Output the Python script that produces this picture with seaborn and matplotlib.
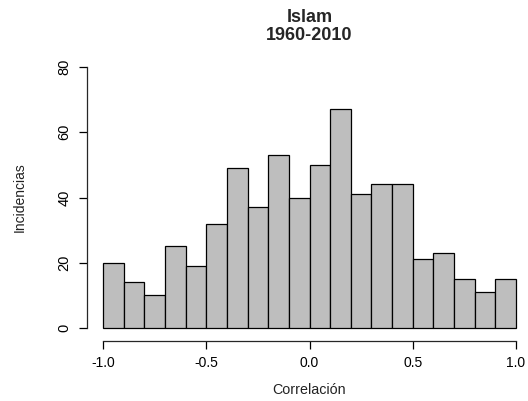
import numpy as np
import pandas as pd
import matplotlib
matplotlib.use("Agg")
import matplotlib.pyplot as plt
import seaborn as sns

# datos del histograma (cuentas por intervalo de 0.1)
bordes = [round(-1.0 + 0.1 * i, 1) for i in range(21)]
centros = [round((a + b) / 2, 2) for a, b in zip(bordes[:-1], bordes[1:])]
cuentas = [20, 14, 10, 25, 19, 32, 49, 37, 53, 40,
           50, 67, 41, 44, 44, 21, 23, 15, 11, 15]
ticks_x = [-1.0, -0.5, 0.0, 0.5, 1.0]
ticks_y = [0, 20, 40, 60, 80]

df = pd.DataFrame({"correlacion": centros, "n": cuentas})

sns.set_style("ticks")
plt.rcParams['font.family'] = ['Liberation Sans', 'DejaVu Sans']

W, H = 528, 401
fig = plt.figure(figsize=(W / 100, H / 100), dpi=100)
# region de trazado estilo R (se sale un poco por la derecha)
izq, der, arr, aba = 86.5, 532.5, 56.6, 338.4
ax = fig.add_axes([izq / W, 1 - aba / H, (der - izq) / W, (aba - arr) / H])

sns.histplot(data=df, x="correlacion", weights="n", bins=bordes, ax=ax,
             color="#bebebe", edgecolor="black", linewidth=0.9, alpha=1)

ax.set_xlim(-1.08, 1.08)
ax.set_ylim(-3.2, 83.2)
ax.set_xticks(ticks_x)
ax.set_xticklabels(["-1.0", "-0.5", "0.0", "0.5", "1.0"], fontsize=10.5, color="#222222")
ax.set_yticks(ticks_y)
ax.set_yticklabels([str(t) for t in ticks_y], fontsize=10.5, rotation=90,
                   va="center", color="#222222")

ax.spines['top'].set_visible(False)
ax.spines['right'].set_visible(False)
ax.spines['left'].set_bounds(0, 80)
ax.spines['bottom'].set_bounds(-1, 1)
ax.spines['bottom'].set_position(('data', -4.0))
ax.spines['left'].set_linewidth(0.9)
ax.spines['bottom'].set_linewidth(0.9)
ax.tick_params(length=6, width=0.9, pad=5, colors="black")

ax.set_xlabel("Correlación", fontsize=10.3, labelpad=9, color="#222222")
ax.set_ylabel("Incidencias", fontsize=10, labelpad=22, color="#222222")

fig.text(309.5 / W, 1 - 18 / H, "Islam", ha="center", va="center",
         fontsize=13, fontweight="bold")
fig.text(309.5 / W, 1 - 36 / H, "1960-2010", ha="center", va="center",
         fontsize=13, fontweight="bold")

fig.savefig("out.png", dpi=100)
